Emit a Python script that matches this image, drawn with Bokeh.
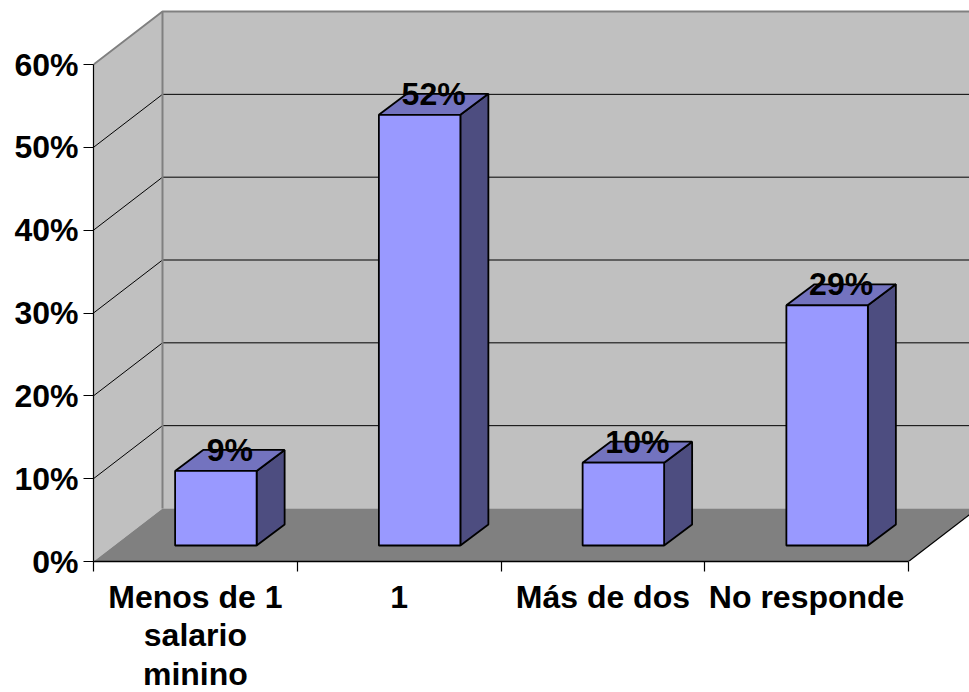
from bokeh.plotting import figure
from bokeh.models import FixedTicker, Range1d, LinearAxis
from bokeh.embed import file_html
from bokeh.resources import INLINE
from bokeh.core.properties import value

categories = ["Menos de 1\nsalario\nminino", "1", "Más de dos", "No responde"]
values = [9, 52, 10, 29]
labels = ["9%", "52%", "10%", "29%"]
y_ticks = [0, 10, 20, 30, 40, 50, 60]

FONT = "Liberation Sans"
FS = "32px"
# oblique projection, in data units (1 category across, 1 percent up)
WALL_DX, WALL_DY = 69 / 203.75, 53 / 8.283
BASE_DX, BASE_DY = 20.5 / 203.75, 16 / 8.283
BAR_DX, BAR_DY = 28 / 203.75, 21 / 8.283
BAR_W = 0.4
N = len(categories)
Y_MAX = y_ticks[-1]

p = figure(width=969, height=692, output_backend="svg", toolbar_location=None,
           frame_width=876, frame_height=561,
           x_range=Range1d(0, 876 / 203.75), y_range=Range1d(0, 561 / 8.283),
           min_border_left=93, min_border_right=0, min_border_top=0, min_border_bottom=131,
           x_axis_location=None, y_axis_location=None)
p.outline_line_color = None
p.grid.visible = False
p.background_fill_color = "white"

# walls
p.patch([0, WALL_DX, WALL_DX, 0], [0, WALL_DY, Y_MAX + WALL_DY, Y_MAX], color="#C0C0C0", line_color=None)
p.patch([WALL_DX, N + WALL_DX, N + WALL_DX, WALL_DX],
        [WALL_DY, WALL_DY, Y_MAX + WALL_DY, Y_MAX + WALL_DY], color="#C0C0C0", line_color=None)
# floor
p.patch([0, N, N + WALL_DX, WALL_DX], [0, 0, WALL_DY, WALL_DY], color="#808080", line_color=None)
p.line([N, N + WALL_DX], [0, WALL_DY], line_color="black", line_width=1.2)

# gridlines
for t in y_ticks[1:-1]:
    p.line([0, WALL_DX, N + WALL_DX], [t, t + WALL_DY, t + WALL_DY], line_color="black", line_width=1)
# wall edges
p.line([0, WALL_DX, N + WALL_DX], [Y_MAX, Y_MAX + WALL_DY, Y_MAX + WALL_DY], line_color="#808080", line_width=2)
p.line([WALL_DX, WALL_DX], [WALL_DY, Y_MAX + WALL_DY], line_color="#808080", line_width=2)

# bars
for i, v in enumerate(values):
    x0 = i + 0.5 - BAR_W / 2 + BASE_DX
    x1 = x0 + BAR_W
    y0 = BASE_DY
    y1 = BASE_DY + v
    p.patch([x1, x1 + BAR_DX, x1 + BAR_DX, x1], [y0, y0 + BAR_DY, y1 + BAR_DY, y1],
            fill_color="#4D4D80", line_color="black", line_width=1.8)
    p.patch([x0, x1, x1 + BAR_DX, x0 + BAR_DX], [y1, y1, y1 + BAR_DY, y1 + BAR_DY],
            fill_color="#7373BF", line_color="black", line_width=1.8)
    p.patch([x0, x1, x1, x0], [y0, y0, y1, y1],
            fill_color="#9999FF", line_color="black", line_width=1.8)
    p.text([x0 + BAR_W / 2 + BAR_DX / 2], [y1 + BAR_DY], text=[labels[i]],
           text_font=value(FONT), text_font_style="bold", text_font_size=FS,
           text_align="center", text_baseline="middle", text_color="black")

# axes
yax = LinearAxis(ticker=FixedTicker(ticks=y_ticks), bounds=(0, Y_MAX),
                 major_label_overrides={t: f"{t}%" for t in y_ticks})
yax.major_tick_out = 10
yax.major_tick_in = 0
yax.minor_tick_line_color = None
yax.major_label_standoff = 5
yax.major_label_text_font = FONT
yax.major_label_text_font_style = "bold"
yax.major_label_text_font_size = FS
yax.major_label_text_color = "black"
yax.axis_line_color = "black"
yax.axis_line_width = 1.2
yax.major_tick_line_width = 1.2
p.add_layout(yax, "left")

# bottom axis line and category-boundary ticks share the frame edge
xticks = LinearAxis(ticker=FixedTicker(ticks=list(range(N + 1))), bounds=(0, N),
                    major_label_overrides={i: "" for i in range(N + 1)})
xticks.major_tick_out = 10
xticks.major_tick_in = 0
xticks.minor_tick_line_color = None
xticks.major_label_standoff = 0
xticks.major_label_text_font_size = "1px"
xticks.axis_line_color = "black"
xticks.axis_line_width = 1.5
xticks.major_tick_line_width = 1.2
p.add_layout(xticks, "below")

xlab = LinearAxis(ticker=FixedTicker(ticks=[i + 0.5 for i in range(N)]),
                  major_label_overrides={i + 0.5: c for i, c in enumerate(categories)})
xlab.axis_line_color = None
xlab.major_tick_line_color = None
xlab.minor_tick_line_color = None
xlab.major_tick_out = 0
xlab.major_tick_in = 0
xlab.major_label_standoff = 7
xlab.major_label_text_font = FONT
xlab.major_label_text_font_style = "bold"
xlab.major_label_text_font_size = FS
xlab.major_label_text_color = "black"
xlab.major_label_text_line_height = 1.08
p.add_layout(xlab, "below")

open("out.html", "w").write(file_html(p, INLINE))
